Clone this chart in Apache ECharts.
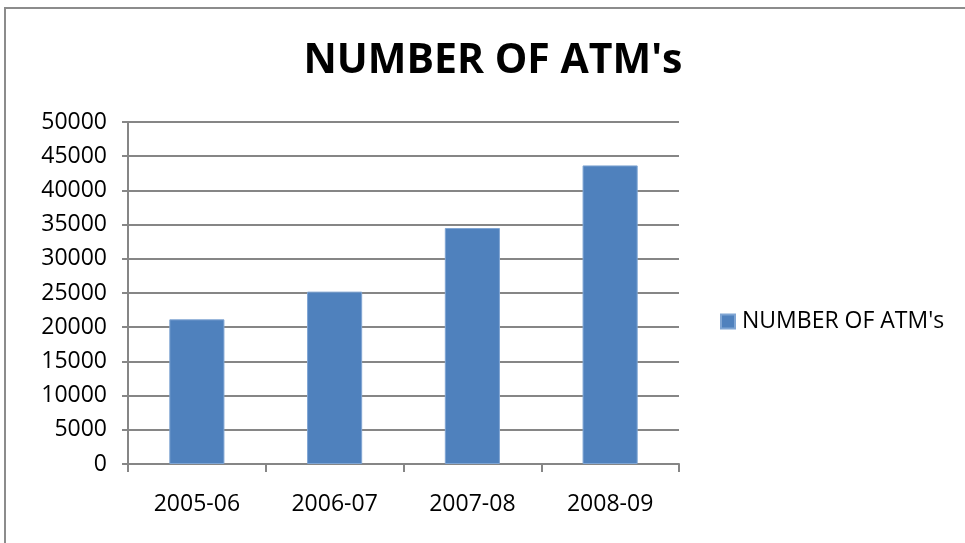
<!DOCTYPE html>
<html>
<head>
<meta charset="utf-8">
<script src="https://cdn.jsdelivr.net/npm/echarts@6/dist/echarts.min.js"></script>
<style>
  html, body { margin: 0; padding: 0; background: #fff; }
  #chart { width: 965px; height: 543px; }
</style>
</head>
<body>
<div id="chart"></div>
<script>
// Fiscal years and ATM counts
const years = ['2005-06', '2006-07', '2007-08', '2008-09'];
const atmCounts = [21150, 25200, 34500, 43650];
const seriesName = "NUMBER OF ATM's";
const yTicks = { min: 0, max: 50000, step: 5000 };

const font = '"Open Sans", sans-serif';
const gridColor = '#868686';

const chart = echarts.init(document.getElementById('chart'));
chart.setOption({
  backgroundColor: '#ffffff',
  animation: false,
  title: {
    text: seriesName,
    left: 488,
    top: 36,
    textAlign: 'center',
    textStyle: { fontFamily: font, fontWeight: 'bold', fontSize: 41, color: '#000' }
  },
  graphic: [
    {
      type: 'polyline',
      silent: true,
      shape: { points: [[5, 600], [5, 8], [1000, 8]] },
      style: { stroke: '#8c8c8c', lineWidth: 2, fill: null }
    }
  ],
  legend: {
    data: [seriesName],
    left: 720,
    top: 310,
    padding: 0,
    itemWidth: 14,
    itemHeight: 14,
    itemGap: 8,
    icon: 'rect',
    textStyle: { fontFamily: font, fontSize: 23, color: '#000', padding: [0, 0, 0, 2] }
  },
  grid: { left: 128, right: 286, top: 122, bottom: 79 },
  xAxis: {
    type: 'category',
    data: years,
    boundaryGap: true,
    axisLine: { lineStyle: { color: gridColor, width: 2 } },
    axisTick: { show: true, length: 8, lineStyle: { color: gridColor, width: 2 } },
    axisLabel: { fontFamily: font, fontSize: 23, color: '#000', margin: 29 }
  },
  yAxis: {
    type: 'value',
    min: yTicks.min,
    max: yTicks.max,
    interval: yTicks.step,
    axisLine: { show: true, lineStyle: { color: gridColor, width: 2 } },
    axisTick: { show: true, length: 6, lineStyle: { color: gridColor, width: 2 } },
    axisLabel: {
      fontFamily: font, fontSize: 23, color: '#000', margin: 21,
      formatter: (v) => String(v)
    },
    splitLine: { show: true, lineStyle: { color: gridColor, width: 2 } }
  },
  series: [
    {
      name: seriesName,
      type: 'bar',
      data: atmCounts,
      barWidth: '40%',
      itemStyle: { color: '#4f81bd', borderColor: '#7fa5d3', borderWidth: 1 }
    }
  ]
});
</script>
</body>
</html>
